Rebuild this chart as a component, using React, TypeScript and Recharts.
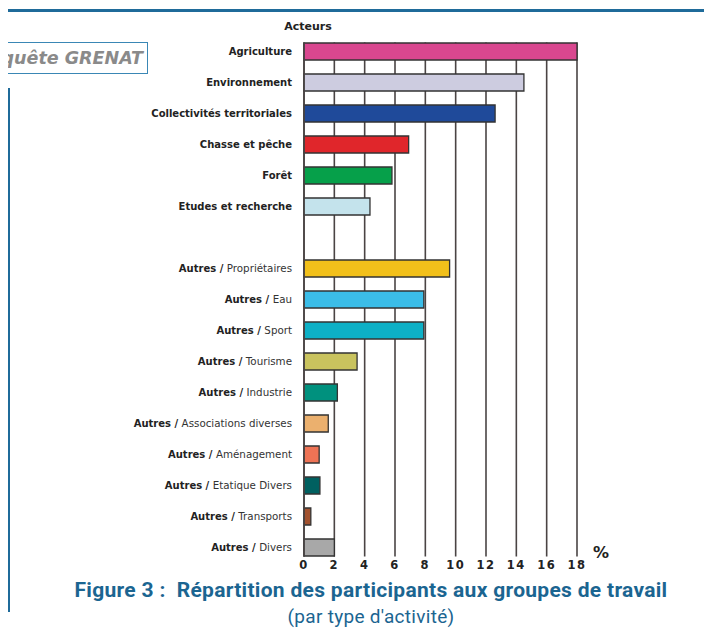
import React from 'react';
import { BarChart, Bar, XAxis, YAxis, CartesianGrid, Cell } from 'recharts';

const categories = [
  'Agriculture',
  'Environnement',
  'Collectivités territoriales',
  'Chasse et pêche',
  'Forêt',
  'Etudes et recherche',
  '',
  'Autres / Propriétaires',
  'Autres / Eau',
  'Autres / Sport',
  'Autres / Tourisme',
  'Autres / Industrie',
  'Autres / Associations diverses',
  'Autres / Aménagement',
  'Autres / Etatique Divers',
  'Autres / Transports',
  'Autres / Divers',
];

const percents = [18, 14.5, 12.6, 6.9, 5.8, 4.35, null, 9.6, 7.9, 7.9, 3.5, 2.2, 1.6, 1.0, 1.05, 0.45, 2.0];

const colors = [
  '#d9478f', '#cdcce0', '#1f4a9a', '#e0262b', '#06a04a', '#c4e3ec', '#ffffff',
  '#f2c01a', '#3bbde8', '#0db0c6', '#c9c35e', '#00917e', '#ebb06e', '#ee7355',
  '#006060', '#a2522f', '#a8a8a8',
];

const xTicks = [0, 2, 4, 6, 8, 10, 12, 14, 16, 18];

const data = categories.map((label, i) => ({ label, value: percents[i] }));

const blue = '#1f6b9a';
const gridColor = '#4a4444';

const CategoryTick = (props: any) => {
  const { x, y, payload } = props;
  const text: string = payload.value || '';
  const parts = text.split(' / ');
  return (
    <text
      x={x}
      y={y}
      dy="0.35em"
      textAnchor="end"
      fontFamily="DejaVu Sans"
      fontSize={10}
      fill="#222"
    >
      {parts.length > 1 ? (
        <>
          <tspan fontWeight="bold">{parts[0]} / </tspan>
          <tspan fill="#333" fontSize={10.3}>{parts[1]}</tspan>
        </>
      ) : (
        <tspan fontWeight="bold">{text}</tspan>
      )}
    </text>
  );
};

export default function App() {
  return (
    <div
      style={{
        position: 'relative',
        width: 712,
        height: 636,
        margin: -8,
        background: '#fff',
        overflow: 'hidden',
      }}
    >
      {/* frame */}
      <div style={{ position: 'absolute', left: 0, top: 9, width: 711, height: 3, background: blue }} />
      <div style={{ position: 'absolute', left: 708, top: 9, width: 3, height: 627, background: blue }} />
      <div style={{ position: 'absolute', left: 7, top: 88, width: 3, height: 524, background: blue }} />
      <div
        style={{
          position: 'absolute',
          left: -4,
          top: 42,
          width: 152,
          height: 32,
          border: '1.5px solid #3a87b5',
          fontFamily: 'DejaVu Sans',
          fontWeight: 'bold',
          fontStyle: 'italic',
          fontSize: 17.5,
          color: '#8a8a8a',
          textAlign: 'right',
          lineHeight: '30px',
          paddingRight: 4,
          boxSizing: 'border-box',
          whiteSpace: 'nowrap',
          overflow: 'hidden',
        }}
      >
        quête GRENAT
      </div>

      <BarChart
        width={712}
        height={636}
        data={data}
        layout="vertical"
        margin={{ top: 42.5, right: 135, left: 0, bottom: 49.5 }}
        barSize={17}
      >
        <CartesianGrid
          horizontal={false}
          stroke={gridColor}
          strokeWidth={1.6}
        />
        <XAxis
          type="number"
          domain={[0, 18]}
          ticks={xTicks}
          height={30}
          axisLine={false}
          tickLine={false}
          tickSize={0}
          tickMargin={4}
          tick={{ fontFamily: 'DejaVu Sans', fontSize: 11.5, fontWeight: 'bold', fill: '#222', letterSpacing: 1.5 }}
        />
        <YAxis
          type="category"
          dataKey="label"
          width={304}
          padding={{ top: -6.5, bottom: -6.5 }}
          axisLine={{ stroke: gridColor, strokeWidth: 1.6 }}
          tickLine={false}
          tickSize={0}
          tickMargin={12}
          interval={0}
          tick={<CategoryTick />}
        />
        <Bar dataKey="value" stroke="#333" strokeWidth={1.3} isAnimationActive={false}>
          {data.map((d, i) => (
            <Cell key={i} fill={colors[i]} />
          ))}
        </Bar>
      </BarChart>

      <div
        style={{
          position: 'absolute',
          left: 258,
          top: 20,
          width: 100,
          textAlign: 'center',
          fontFamily: 'DejaVu Sans',
          fontWeight: 'bold',
          fontSize: 11,
          color: '#222',
        }}
      >
        Acteurs
      </div>
      <div
        style={{
          position: 'absolute',
          left: 593,
          top: 543,
          fontFamily: 'DejaVu Sans',
          fontWeight: 'bold',
          fontSize: 16,
          color: '#222',
        }}
      >
        %
      </div>
      <div
        style={{
          position: 'absolute',
          left: 0,
          top: 578,
          width: 742,
          textAlign: 'center',
          fontFamily: 'Roboto',
          fontWeight: 'bold',
          fontSize: 21,
          letterSpacing: 0.3,
          color: '#1b6591',
          whiteSpace: 'pre',
        }}
      >
        {'Figure 3 :  Répartition des participants aux groupes de travail'}
      </div>
      <div
        style={{
          position: 'absolute',
          left: 0,
          top: 605,
          width: 742,
          textAlign: 'center',
          fontFamily: 'Roboto',
          fontSize: 19,
          letterSpacing: 0.3,
          color: '#1b6591',
        }}
      >
        (par type d'activité)
      </div>
    </div>
  );
}
